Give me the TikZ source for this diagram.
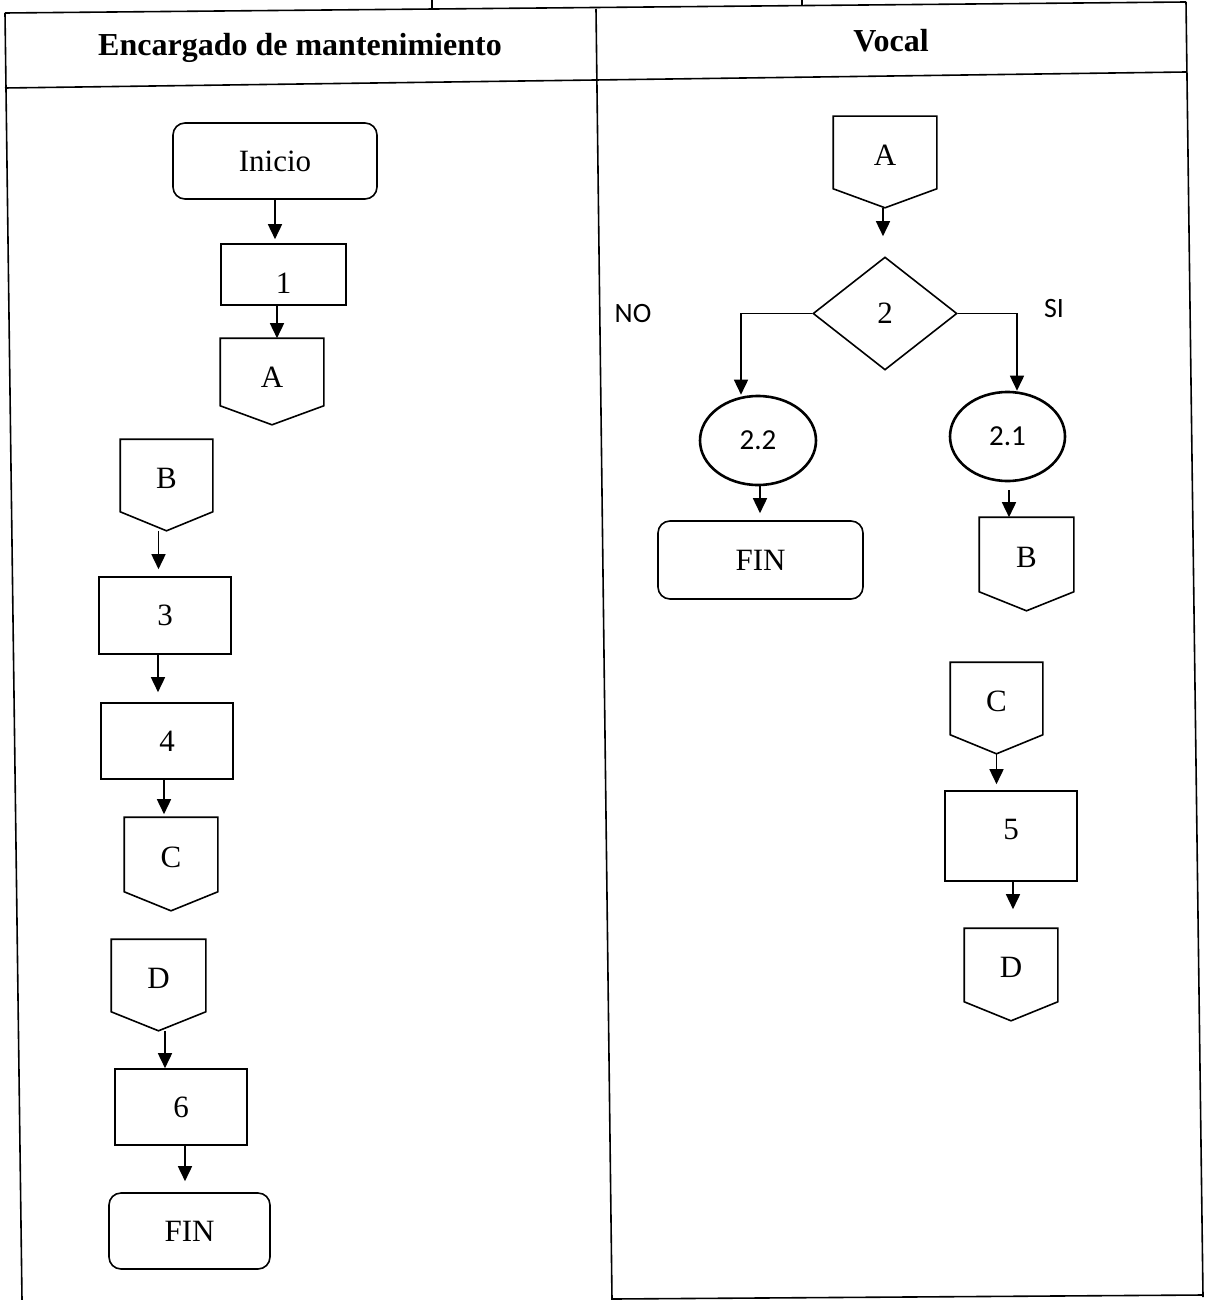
\documentclass[tikz,border=0pt]{standalone}
\usepackage{fontspec}
\setmainfont{Liberation Serif}
\newfontfamily\calib{Carlito}
\usetikzlibrary{shapes.geometric,arrows.meta}
\begin{document}
\begin{tikzpicture}[x=0.5pt,y=-0.5pt, line width=0.8pt,
 every node/.style={font=\fontsize{15.5}{18}\selectfont, inner sep=0pt},
 term/.style={draw, rounded corners=6pt},
 proc/.style={draw},
 offp/.style={text depth=7pt},
 dec/.style={draw, diamond},
 ell/.style={draw, ellipse, line width=1.3pt, font=\calib\fontsize{14.5}{17}\selectfont},
 head/.style={font=\bfseries\fontsize{16}{19}\selectfont},
 lab/.style={font=\calib\fontsize{14}{17}\selectfont},
 arr/.style={-{Triangle[length=7.5pt,width=7pt]}}]
\useasboundingbox (0,0) rectangle (1204,1300);
% table
\draw (5,13) -- (1186,2);
\draw (432,0) -- (432,10);
\draw (802,0) -- (802,6);
\draw (5,88) -- (1186,72);
\draw (5,13) -- (22,1300);
\draw (596,9) -- (612,1300);
\draw (1186,2) -- (1203,1297);
\draw (612,1299) -- (1203,1295);
\node[head] (h1) at (300,48) {Encargado de mantenimiento};
\node[head] (h2) at (891,41) {Vocal};
% left lane
\node[term, minimum width=102pt, minimum height=38pt] (ini) at (275,161) {Inicio};
\node[proc, minimum width=62.5pt, minimum height=30.5pt, text height=18.5pt] (p1) at (283.5,274.5) {1};
\node[offp, text depth=4.5pt, minimum width=51pt, minimum height=42.5pt] (A1) at (272,381.5) {A};
\node[offp, minimum width=45.5pt, minimum height=45pt] (B1) at (166.5,485) {B};
\node[proc, minimum width=66pt, minimum height=38.5pt] (p3) at (165,615.5) {3};
\node[proc, minimum width=66pt, minimum height=38pt] (p4) at (167,741) {4};
\node[offp, minimum width=46pt, minimum height=46pt] (C1) at (171,864) {C};
\node[offp, minimum width=46.5pt, minimum height=45pt] (D1) at (158.5,985) {D};
\node[proc, minimum width=66pt, minimum height=38pt] (p6) at (181,1107) {6};
\node[term, minimum width=80.5pt, minimum height=38pt] (fin1) at (189.5,1231) {FIN};
% right lane
\node[offp, minimum width=51pt, minimum height=45pt] (A2) at (885,162) {A};
\node[dec, minimum width=72pt, minimum height=56.5pt] (d2) at (885,313.5) {2};
\node[ell, minimum width=58pt, minimum height=44.5pt] (e22) at (758,440.5) {2.2};
\node[ell, minimum width=57.5pt, minimum height=44.5pt] (e21) at (1007.5,436.5) {2.1};
\node[term, minimum width=102.5pt, minimum height=39pt] (fin2) at (760.5,560) {FIN};
\node[offp, minimum width=46.5pt, minimum height=46pt] (B2) at (1026.5,564) {B};
\node[offp, minimum width=45.5pt, minimum height=45pt] (C2) at (996.5,708) {C};
\node[proc, minimum width=66pt, minimum height=45pt, text depth=7pt] (p5) at (1011,836) {5};
\node[offp, minimum width=46pt, minimum height=45.5pt] (D2) at (1011,974.5) {D};
\node[lab] (no) at (633,314) {NO};
\node[lab] (si) at (1054,309) {SI};
% off-page outlines
\foreach \n in {A1,B1,C1,D1,A2,B2,C2,D2}
  \draw (\n.north west) -- (\n.north east) -- ([yshift=9.5pt]\n.south east) -- (\n.south) -- ([yshift=9.5pt]\n.south west) -- cycle;
% connectors
\draw[arr, shorten >=2pt] (ini.south) -- (ini.south |- p1.north);
\draw[arr] ([xshift=-3.25pt]p1.south) -- ([xshift=-3.25pt]p1.south |- A1.north);
\draw[arr, shorten >=3.5pt] ([xshift=-4pt]B1.south) -- ([xshift=-4pt]B1.south |- p3.north);
\draw[arr, shorten >=5pt] ([xshift=-3.5pt]p3.south) -- ([xshift=-3.5pt]p3.south |- p4.north);
\draw[arr, shorten >=1.5pt] ([xshift=-1.5pt]p4.south) -- ([xshift=-1.5pt]p4.south |- C1.north);
\draw[arr] ([xshift=3.25pt]D1.south) -- ([xshift=3.25pt]D1.south |- p6.north);
\draw[arr, shorten >=5.5pt] ([xshift=2pt]p6.south) -- ([xshift=2pt]p6.south |- fin1.north);
\draw[arr, shorten >=10pt] ([xshift=-1pt]A2.south) -- ([xshift=-1pt]A2.south |- d2.north);
\draw[arr] (d2.west) -| ([xshift=-8.5pt]e22.north);
\draw[arr] (d2.east) -| ([xshift=4.75pt]e21.north);
\draw[arr, shorten >=3.5pt] ([xshift=1pt]e22.south) -- ([xshift=1pt]e22.south |- fin2.north);
\draw[arr, shorten <=4pt] ([xshift=0.75pt]e21.south) -- ([xshift=0.75pt]e21.south |- B2.north);
\draw[arr, shorten >=3pt] (C2.south) -- (C2.south |- p5.north);
\draw[arr, shorten >=9.5pt] ([xshift=1pt]p5.south) -- ([xshift=1pt]p5.south |- D2.north);
\end{tikzpicture}
\end{document}
